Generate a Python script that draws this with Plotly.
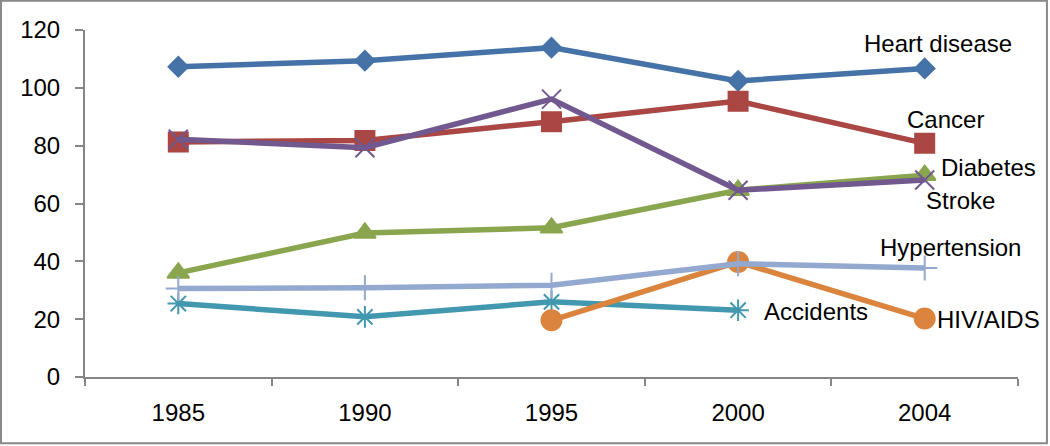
import plotly.graph_objects as go

years = ["1985", "1990", "1995", "2000", "2004"]

heart_disease = [107.3, 109.4, 113.9, 102.4, 106.7]
cancer = [81.3, 81.8, 88.3, 95.4, 80.8]
diabetes = [36.0, 49.8, 51.6, 64.6, 69.8]
stroke = [82.2, 79.3, 96.1, 64.6, 68.1]
accidents = [25.4, 20.8, 26.0, 23.1, None]
hiv_aids = [None, None, 19.6, 39.8, 20.2]
hypertension = [30.6, 30.9, 31.7, 39.2, 37.7]

FONT = "Liberation Sans"
AXIS = "#868686"

# name, values, colour, marker symbol, marker size, label x, label y
series = [
    ("Heart disease", heart_disease, "#4572A7", "diamond", 15, 4.07, 115.5),
    ("Cancer", cancer, "#AA4643", "square", 19, 4.11, 88.9),
    ("Diabetes", diabetes, "#89A54E", "triangle-up", 19, 4.34, 72.6),
    ("Stroke", stroke, "#71588F", "x-thin-open", 19, 4.19, 61.2),
    ("Accidents", accidents, "#4198AF", "asterisk-open", 18, 3.42, 22.7),
    ("HIV/AIDS", hiv_aids, "#DB843D", "circle", 20, 4.34, 20.0),
    ("Hypertension", hypertension, "#93A9CF", "cross-thin-open", 18, 4.14, 44.9),
]

fig = go.Figure()
for name, vals, color, sym, size, lx, ly in series:
    fig.add_trace(go.Scatter(
        x=years, y=vals, name=name,
        mode="lines+markers",
        line=dict(color=color, width=5.5),
        marker=dict(symbol=sym, size=size, color=color,
                    line=dict(color=color, width=2)),
        showlegend=False,
    ))
    fig.add_annotation(
        x=lx, y=ly, text=name, showarrow=False,
        font=dict(family=FONT, size=24, color="black"),
        xanchor="center", yanchor="middle",
    )

# outer chart border
fig.add_shape(
    type="rect", xref="paper", yref="paper",
    x0=-0.09, x1=1.031, y0=-0.191, y1=1.084,
    line=dict(color="#898989", width=2),
)

fig.update_layout(
    width=1050, height=446,
    margin=dict(l=85, r=32, t=30, b=69),
    paper_bgcolor="white", plot_bgcolor="white",
    font=dict(family=FONT, size=24, color="black"),
)
fig.update_xaxes(
    type="category", tickson="boundaries",
    showline=True, linecolor=AXIS, linewidth=2,
    ticks="outside", ticklen=7, tickcolor=AXIS, tickwidth=2,
    showgrid=False, zeroline=False,
    range=[-0.5, 4.5],
    ticklabelstandoff=13,
)
fig.update_yaxes(
    range=[0, 120], tickvals=[0, 20, 40, 60, 80, 100, 120],
    showline=True, linecolor=AXIS, linewidth=2,
    ticks="outside", ticklen=8, tickcolor=AXIS, tickwidth=2,
    showgrid=False, zeroline=False,
    ticklabelstandoff=10,
)

# drop the default page margin so the figure sits at the window corner
fig.write_html(
    "out.html",
    config={"displayModeBar": False},
    post_script="document.body.style.margin='0';",
)
